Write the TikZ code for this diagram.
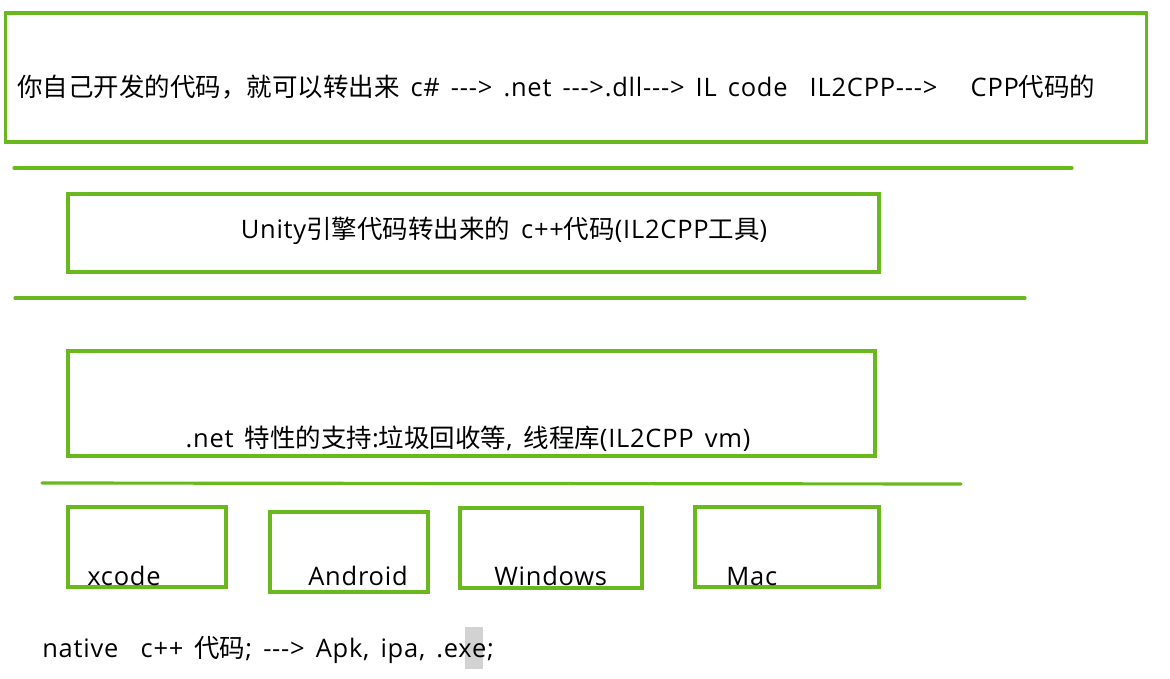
\documentclass[tikz,border=0pt]{standalone}
\usepackage{fontspec}
\usepackage{tikz}
\usetikzlibrary{positioning}
\newfontfamily\cjk{Noto Sans CJK SC}
\newfontfamily\latin{Open Sans}[LetterSpace=3, WordSpace=1.5]
\newcommand\zh[1]{{\cjk #1}}
\definecolor{boxgreen}{RGB}{104,184,30}

\begin{document}
\begin{tikzpicture}[x=0.02cm, y=-0.02cm,
  frame/.style={draw=boxgreen, line width=1.8pt, inner sep=0pt},
  sep/.style={draw=boxgreen, line width=1.8pt, line cap=round},
  txt/.style={font=\latin\fontsize{14.5}{17}\selectfont, inner sep=0pt}]
  \useasboundingbox (0,0) rectangle (1170,679);

  % layers
  \node[frame, minimum width=22.84cm, minimum height=2.58cm] (own)    at (576,77.5)  {};
  \node[frame, minimum width=16.22cm, minimum height=1.56cm] (engine) at (473.5,233) {};
  \node[frame, minimum width=16.14cm, minimum height=2.10cm] (vm)     at (471.5,403.5) {};

  % platforms
  \node[frame, minimum width=3.16cm, minimum height=1.6cm] (xcode)   at (147,547) {};
  \node[frame, minimum width=3.16cm, minimum height=1.6cm] (android) at (349,552) {};
  \node[frame, minimum width=3.64cm, minimum height=1.6cm] (windows) at (551,548) {};
  \node[frame, minimum width=3.68cm, minimum height=1.6cm] (mac)     at (787,547) {};

  % separators
  \draw[sep] (14,168) -- (1072,168);
  \draw[sep] (15,298) -- (1025,298);
  \draw[sep] (42,483) -- (961,484);

  \node[txt, anchor=base west] (owntext) at (17,97)
    {\zh{你自己开发的代码，就可以转出来}\ c\# ---> .net --->.dll---> IL code\ \ IL2CPP--->\ \ \ CPP\zh{代码的}};
  \node[txt, anchor=base] (enginetext) at (504,238) {Unity\zh{引擎代码转出来的} c++\zh{代码}(IL2CPP\zh{工具})};
  \node[txt, anchor=base] (vmtext)     at (468,447) {.net \zh{特性的支持}:\zh{垃圾回收等}, \zh{线程库}(IL2CPP vm)};

  \node[txt, anchor=base west] (xcodetext)   at (87,585)  {xcode};
  \node[txt, anchor=base west] (androidtext) at (308,585) {Android};
  \node[txt, anchor=base west] (windowstext) at (494,585) {Windows};
  \node[txt, anchor=base west] (mactext)     at (726,585) {Mac};

  %\node (cursor) ...
  \fill[gray!35] (465,627) rectangle (483,669);
  \node[txt, anchor=base west] (native) at (42,657) {native\ \ c++ \zh{代码}; ---> Apk, ipa, .exe;};

\end{tikzpicture}
\end{document}
